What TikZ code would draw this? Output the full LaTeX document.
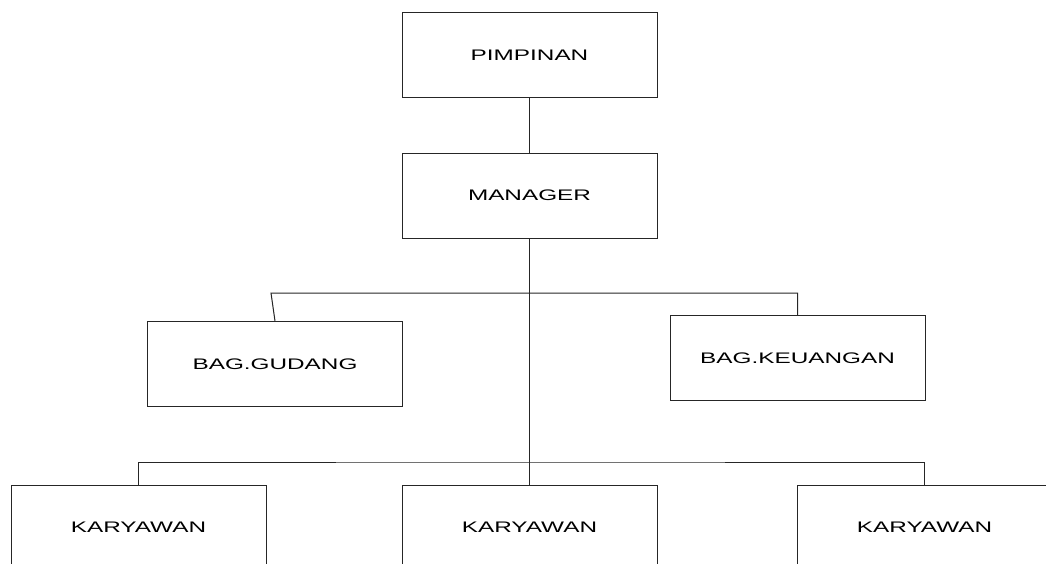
\documentclass[tikz,border=0pt]{standalone}
\usepackage{graphicx}
\usepackage{fontspec}
\setmainfont{Liberation Sans}
\usetikzlibrary{calc}
\newcommand{\wide}[1]{\scalebox{1.59}[1]{#1}}

\begin{document}
\begin{tikzpicture}[x=1pt,y=-1pt,
    box/.style={draw=black!85,line width=1pt,minimum width=255pt,minimum height=85pt,inner sep=0pt,
      font=\fontsize{15.3}{18}\selectfont},
    link/.style={draw=black!85,line width=1pt}]
      \useasboundingbox(0,0)rectangle(1046,563);
      \clip(0,0)rectangle(1046,563);

      % top of the chart
      \node[box](pimpinan)at(529.5,55){\wide{PIMPINAN}};
      \node[box](manager)at(529.5,195.5){\wide{MANAGER}};
      \node[box](gudang)at(275,364){\wide{BAG.GUDANG}};
      \node[box](keuangan)at(797.5,358){\wide{BAG.KEUANGAN}};

      % staff row, cut by the lower edge
      \foreach \n/\x in{k1/138.5,k2/529.5,k3/924.5}{
        \node[box](\n)at(\x,527.5){\wide{KARYAWAN}};
      }
      \coordinate(bar)at(529.5,462);

      \draw[link](pimpinan)--(manager);
      \draw[link](manager.south)--(k2.north);
      \draw[link](gudang.north)--++(-4,-28)-|(keuangan.north);
      \draw[link](k1.north)|-(bar)-|(k3.north);
    \end{tikzpicture}
\end{document}
